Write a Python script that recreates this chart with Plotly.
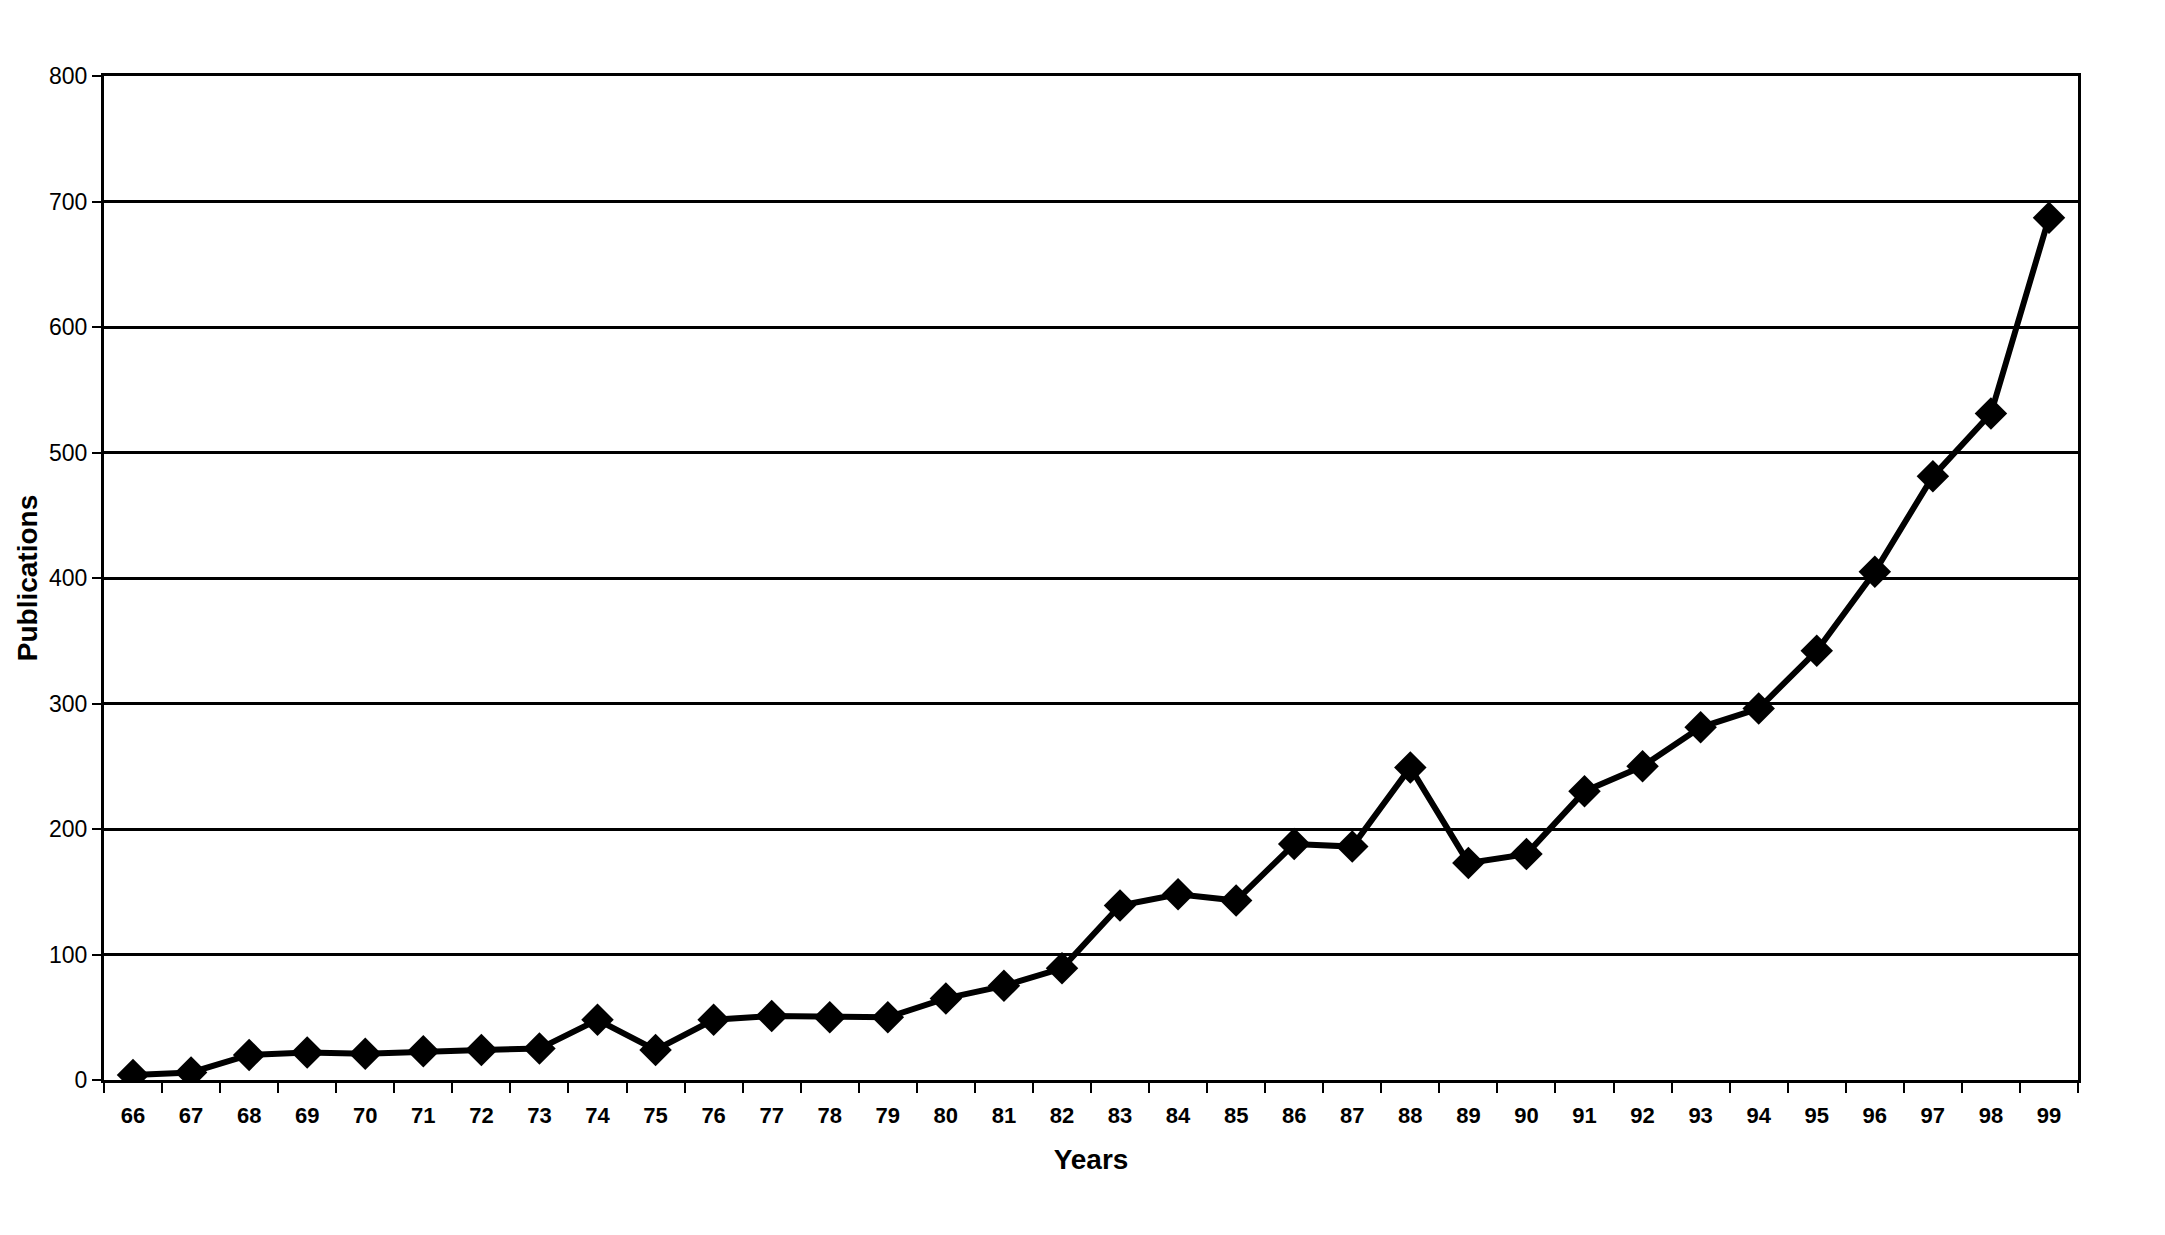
import plotly.graph_objects as go

# publications per year (1966-1999)
years = ["66", "67", "68", "69", "70", "71", "72", "73", "74", "75", "76", "77",
         "78", "79", "80", "81", "82", "83", "84", "85", "86", "87", "88", "89",
         "90", "91", "92", "93", "94", "95", "96", "97", "98", "99"]
publications = [4, 6, 20, 22, 21, 23, 24, 25, 48, 24, 48, 51,
                50, 50, 65, 75, 89, 139, 148, 143, 188, 186, 249, 173,
                180, 230, 250, 281, 296, 342, 405, 481, 531, 687]
y_ticks = [0, 100, 200, 300, 400, 500, 600, 700, 800]

fig = go.Figure()

fig.add_trace(go.Scatter(
    x=years,
    y=publications,
    mode="lines+markers",
    line=dict(color="black", width=6),
    marker=dict(symbol="diamond", size=25, color="black"),
    showlegend=False
))

fig.update_layout(
    width=2149,
    height=1219,
    plot_bgcolor="white",
    paper_bgcolor="white",
    font=dict(family="Liberation Sans, Arial", color="black"),
    margin=dict(l=96, r=79, t=68, b=147),
    xaxis=dict(
        type="category",
        range=[-0.5, 33.5],
        title=dict(text="<b>Years</b>", font=dict(size=28), standoff=22),
        tickfont=dict(size=22),
        tickprefix="<b>", ticksuffix="</b>",
        ticklabelstandoff=14,
        ticks="outside", tickson="boundaries", ticklen=10, tickwidth=2,
        tickcolor="black",
        showgrid=False,
        showline=True, linecolor="black", linewidth=3, mirror=True,
    ),
    yaxis=dict(
        range=[0, 800],
        tickvals=y_ticks,
        title=dict(text="<b>Publications</b>", font=dict(size=28), standoff=4),
        tickfont=dict(size=23),
        tickprefix="<b>", ticksuffix="</b>",
        ticks="outside", ticklen=9, tickwidth=2, tickcolor="black",
        showgrid=True, gridcolor="black", gridwidth=2.5,
        showline=True, linecolor="black", linewidth=3, mirror=True,
        zeroline=False,
    ),
)

fig.write_html("out.html")
